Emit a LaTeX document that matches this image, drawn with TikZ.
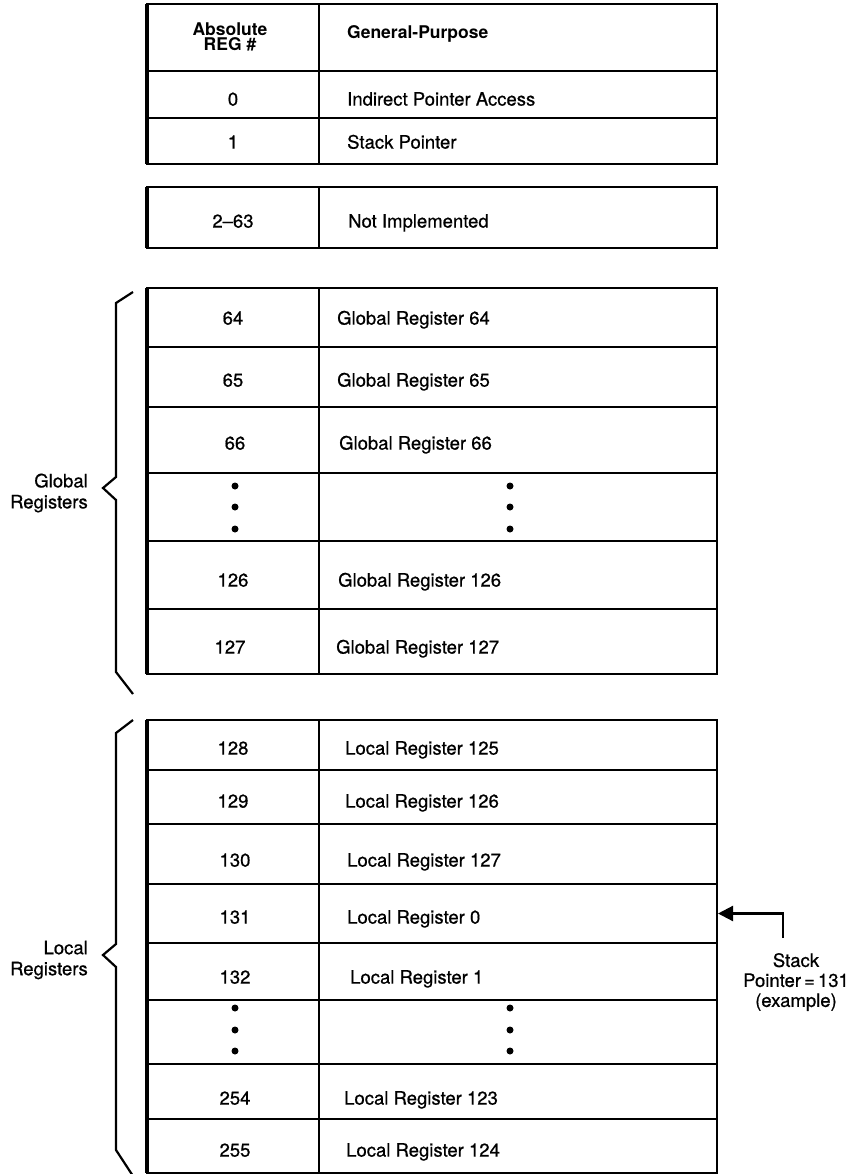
\documentclass[tikz,border=0pt]{standalone}
\usepackage{fontspec}
\setmainfont{TeX Gyre Heros}
\newfontfamily\medfont{TeX Gyre Heros}[FakeBold=0.7]
\usetikzlibrary{arrows.meta}
\tikzset{
	regframe/.style={line width=2.8pt},
	regedge/.style={line width=4pt},
	regline/.style={line width=1.8pt},
	regnum/.style={font=\medfont\fontsize{18.5}{21}\selectfont, text height=13.2pt, text depth=0pt, inner sep=0pt},
	regtxt/.style={regnum, anchor=west},
	hdr/.style={font=\bfseries\fontsize{17.5}{15.5}\selectfont, inner sep=0pt},
	sidetxt/.style={font=\medfont\fontsize{18.5}{21}\selectfont, align=right, inner sep=0pt, anchor=east},
	bracepath/.style={line width=2.2pt, line join=miter},
	vdot/.style={circle, fill, inner sep=0pt, minimum size=7pt},
	ptr/.style={line width=2.2pt, -{Triangle[length=15pt, width=15pt]}},
}
\begin{document}
\begin{tikzpicture}[x=1pt, y=-1pt]
	\useasboundingbox (0,0) rectangle (853,1174);
	\draw[regline] (147,71)--(717,71);
	\draw[regline] (147,118)--(717,118);
	\draw[regline] (319,4)--(319,164);
	\draw[regframe] (147,4) rectangle (717,164);
	\draw[regedge] (147,4)--(147,164);
	\node[hdr, align=center] (hnum) at (230,37) {Absolute\\REG \#};
	\node[hdr, anchor=west] (htxt) at (347,34) {General-Purpose};
	\node[regnum] (n0) at (233,99) {0};
	\node[regtxt] (t0) at (347,99) {Indirect Pointer Access};
	\node[regnum] (n1) at (233,142) {1};
	\node[regtxt] (t1) at (347,142) {Stack Pointer};
	\draw[regline] (319,187)--(319,248);
	\draw[regframe] (147,187) rectangle (717,248);
	\draw[regedge] (147,187)--(147,248);
	\node[regnum] (n2) at (233,221) {2–63};
	\node[regtxt] (t2) at (348,221) {Not Implemented};
	\draw[regline] (147,347)--(717,347);
	\draw[regline] (147,407)--(717,407);
	\draw[regline] (147,473)--(717,473);
	\draw[regline] (147,541)--(717,541);
	\draw[regline] (147,609)--(717,609);
	\draw[regline] (319,288)--(319,674);
	\draw[regframe] (147,288) rectangle (717,674);
	\draw[regedge] (147,288)--(147,674);
	\node[regnum] (n64) at (233,318) {64};
	\node[regtxt] (t64) at (337,318) {Global Register 64};
	\node[regnum] (n65) at (233,380) {65};
	\node[regtxt] (t65) at (337,380) {Global Register 65};
	\node[regnum] (n66) at (235,443) {66};
	\node[regtxt] (t66) at (339,443) {Global Register 66};
	\node[vdot] (gl1) at (235,486) {};
	\node[vdot] (gl2) at (235,507) {};
	\node[vdot] (gl3) at (235,529) {};
	\node[vdot] (gr1) at (510,486) {};
	\node[vdot] (gr2) at (510,507) {};
	\node[vdot] (gr3) at (510,529) {};
	\node[regnum] (n126) at (233,580) {126};
	\node[regtxt] (t126) at (338,580) {Global Register 126};
	\node[regnum] (n127) at (230,647) {127};
	\node[regtxt] (t127) at (336,647) {Global Register 127};
	\draw[bracepath] (133,292)--(116,303)--(116,477)--(103,488)--(116,500)--(116,672)--(133,694);
	\node[sidetxt] (glob) at (88,493) {Global\\Registers};
	\draw[regline] (147,770)--(717,770);
	\draw[regline] (147,824)--(717,824);
	\draw[regline] (147,884)--(717,884);
	\draw[regline] (147,943)--(717,943);
	\draw[regline] (147,1000)--(717,1000);
	\draw[regline] (147,1064)--(717,1064);
	\draw[regline] (147,1119)--(717,1119);
	\draw[regline] (319,720)--(319,1173);
	\draw[regframe] (147,720) rectangle (717,1173);
	\draw[regedge] (147,720)--(147,1173);
	\node[regnum] (n128) at (233,748) {128};
	\node[regtxt] (t128) at (345,748) {Local Register 125};
	\node[regnum] (n129) at (233,801) {129};
	\node[regtxt] (t129) at (345,801) {Local Register 126};
	\node[regnum] (n130) at (235,860) {130};
	\node[regtxt] (t130) at (347,860) {Local Register 127};
	\node[regnum] (n131) at (235,917) {131};
	\node[regtxt] (t131) at (347,917) {Local Register 0};
	\node[regnum] (n132) at (235,977) {132};
	\node[regtxt] (t132) at (350,977) {Local Register 1};
	\node[vdot] (ll1) at (235,1008) {};
	\node[vdot] (ll2) at (235,1030) {};
	\node[vdot] (ll3) at (235,1051) {};
	\node[vdot] (lr1) at (510,1008) {};
	\node[vdot] (lr2) at (510,1030) {};
	\node[vdot] (lr3) at (510,1051) {};
	\node[regnum] (n254) at (235,1098) {254};
	\node[regtxt] (t254) at (344,1098) {Local Register 123};
	\node[regnum] (n255) at (235,1150) {255};
	\node[regtxt] (t255) at (346,1150) {Local Register 124};
	\draw[bracepath] (133,720)--(116,733)--(116,944)--(103,955)--(116,967)--(116,1150)--(133,1176);
	\node[sidetxt] (loc) at (88,960) {Local\\Registers};
	\node[font=\medfont\fontsize{18.5}{20}\selectfont, align=center, inner sep=0pt] (sptxt) at (796,982) {Stack\\Pointer\,=\,131\\(example)};
	\coordinate (spfoot) at (783,938);
	\coordinate (sp131) at (718,913.5);
	\draw[ptr] (spfoot) |- (sp131);
\end{tikzpicture}
\end{document}
